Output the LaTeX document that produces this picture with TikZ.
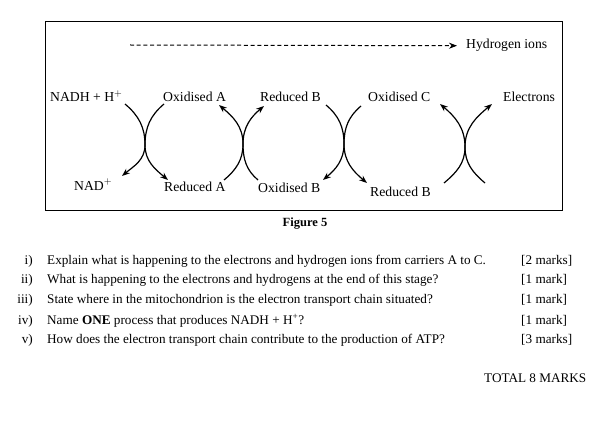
\documentclass[tikz,border=0pt]{standalone}
\usepackage{fontspec}
\setmainfont{Liberation Serif}
\usetikzlibrary{arrows.meta}
\begin{document}
\begin{tikzpicture}[x=1pt,y=-1pt,
  lbl/.style={anchor=base west,inner sep=0pt,font=\fontsize{13.7}{16}\selectfont},
  qnum/.style={anchor=base east,inner sep=0pt,font=\fontsize{13.2}{15}\selectfont},
  qtxt/.style={anchor=base west,inner sep=0pt,font=\fontsize{13.2}{15}\selectfont},
  carrier/.style={line width=1.2pt,-{Stealth[length=8pt,width=6pt]}}]
\useasboundingbox (0,0) rectangle (612,422);
\draw[line width=1pt] (45,22) rectangle (562,210);
\node[lbl] (hions) at (466,49) {Hydrogen ions};
\coordinate (dstart) at (130,45);
\draw[line width=1pt,dash pattern=on 4pt off 2.7pt,-{Stealth[length=8pt,width=6pt]}] (dstart) -- ([xshift=-9pt]hions.west);
\node[lbl] (nadh) at (50,102) {NADH + H$^{+}$};
\node[lbl] (oxa) at (163,102) {Oxidised A};
\node[lbl] (redb) at (260,102) {Reduced B};
\node[lbl] (oxc) at (368,102) {Oxidised C};
\node[lbl] (elec) at (503,102) {Electrons};
\node[lbl] (nad) at (74,190) {NAD$^{+}$};
\node[lbl] (reda) at (164,191) {Reduced A};
\node[lbl] (oxb) at (258,192) {Oxidised B};
\node[lbl] (redbb) at (370,196) {Reduced B};
% crossing points
\coordinate (c1) at (145,145);
\coordinate (c2) at (243,144);
\coordinate (c3) at (344,144);
\coordinate (c4) at (465,147);
% free ends of the arcs
\coordinate (a1) at (125,104); \coordinate (b1) at (122,176);
\coordinate (a2) at (164,104); \coordinate (b2) at (168,180);
\coordinate (a3) at (224,180); \coordinate (b3) at (219,105);
\coordinate (a4) at (258,180); \coordinate (b4) at (264,106);
\coordinate (a5) at (326,105); \coordinate (b5) at (323,180);
\coordinate (a6) at (361,106); \coordinate (b6) at (367,183);
\coordinate (a7) at (444,183); \coordinate (b7) at (440,104);
\coordinate (a8) at (485,183); \coordinate (b8) at (492,104);
\draw[carrier] (a1) to[out=-40,in=90] (c1) to[out=-90,in=40] (b1);
\draw[carrier] (a2) to[out=-140,in=90] (c1) to[out=-90,in=140] (b2);
\draw[carrier] (a3) to[out=40,in=-90] (c2) to[out=90,in=-40] (b3);
\draw[carrier] (a4) to[out=140,in=-90] (c2) to[out=90,in=-140] (b4);
\draw[carrier] (a5) to[out=-40,in=90] (c3) to[out=-90,in=40] (b5);
\draw[carrier] (a6) to[out=-140,in=90] (c3) to[out=-90,in=140] (b6);
\draw[carrier] (a7) to[out=40,in=-90] (c4) to[out=90,in=-40] (b7);
\draw[carrier] (a8) to[out=140,in=-90] (c4) to[out=90,in=-140] (b8);
\node[anchor=base,inner sep=0pt,font=\fontsize{12.5}{14}\selectfont\bfseries] (fig) at (305,226) {Figure 5};
\node[qnum] (n1) at (33,264) {i)};
\node[qtxt] (q1) at (47,264) {Explain what is happening to the electrons and hydrogen ions from carriers A to C.};
\node[qtxt] (m1) at (521,264) {[2 marks]};
\node[qnum] (n2) at (33,283) {ii)};
\node[qtxt] (q2) at (47,283) {What is happening to the electrons and hydrogens at the end of this stage?};
\node[qtxt] (m2) at (521,283) {[1 mark]};
\node[qnum] (n3) at (33,303) {iii)};
\node[qtxt] (q3) at (47,303) {State where in the mitochondrion is the electron transport chain situated?};
\node[qtxt] (m3) at (521,303) {[1 mark]};
\node[qnum] (n4) at (33,324) {iv)};
\node[qtxt] (q4) at (47,324) {Name \textbf{ONE} process that produces NADH + H\textsuperscript{+}?};
\node[qtxt] (m4) at (521,324) {[1 mark]};
\node[qnum] (n5) at (33,343) {v)};
\node[qtxt] (q5) at (47,343) {How does the electron transport chain contribute to the production of ATP?};
\node[qtxt] (m5) at (521,343) {[3 marks]};
\node[qtxt] (total) at (484,382) {TOTAL 8 MARKS};
\end{tikzpicture}
\end{document}
